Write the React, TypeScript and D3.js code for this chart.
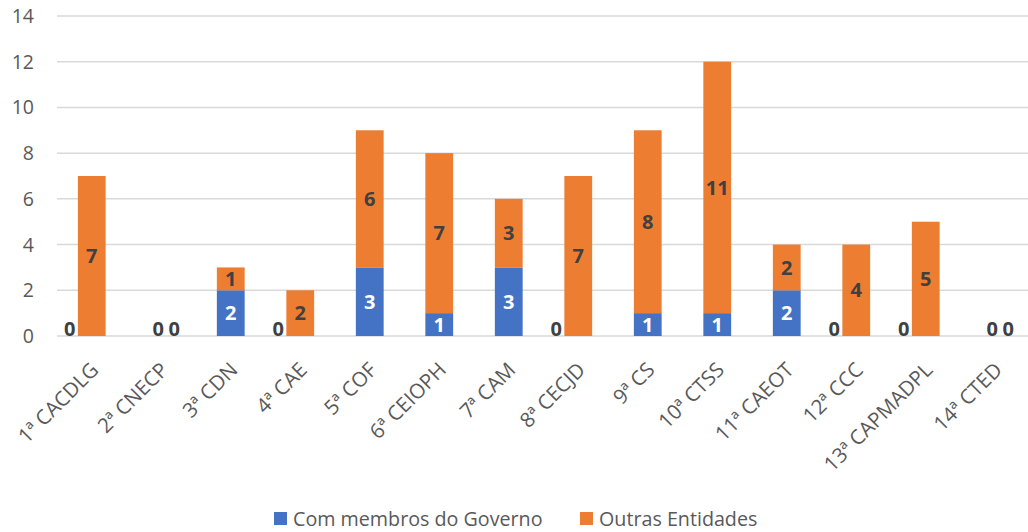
import React from "react";
import * as d3 from "d3";

const categories = [
  "1ª CACDLG", "2ª CNECP", "3ª CDN", "4ª CAE", "5ª COF", "6ª CEIOPH", "7ª CAM",
  "8ª CECJD", "9ª CS", "10ª CTSS", "11ª CAEOT", "12ª CCC", "13ª CAPMADPL", "14ª CTED",
];
const governo = [0, 0, 2, 0, 3, 1, 3, 0, 1, 1, 2, 0, 0, 0];
const outras = [7, 0, 1, 2, 6, 7, 3, 7, 8, 11, 2, 4, 5, 0];
const seriesNames = ["Com membros do Governo", "Outras Entidades"];
const yTicks = [0, 2, 4, 6, 8, 10, 12, 14];

const W = 1028;
const H = 532;
const FONT = "'Open Sans', sans-serif";
const BLUE = "#4472C4";
const ORANGE = "#ED7D31";
const GRID = "#d9d9d9";
const TXT = "#595959";
const LBL = "#404040";

export default function App() {
  const x = d3.scaleBand<string>().domain(categories).range([57, 1030]).paddingInner(0.6).paddingOuter(0.3);
  const y = d3.scaleLinear().domain([0, 14]).range([336, 16]);
  const data = categories.map((c, i) => ({ c, g: governo[i], o: outras[i] }));
  const bw = x.bandwidth();

  return (
    <svg width={W} height={H} style={{ position: "absolute", left: 0, top: 0, background: "#fff" }}>
      {yTicks.map((t) => (
        <g key={t}>
          <line x1={57} x2={W} y1={y(t)} y2={y(t)} stroke={GRID} strokeWidth={1.5} />
          <text x={34} y={y(t)} dy="0.36em" textAnchor="end" fontFamily={FONT} fontSize={19.5} fill={TXT}>{t}</text>
        </g>
      ))}
      {data.map((d) => {
        const x0 = x(d.c)!;
        const cx = x0 + bw / 2;
        const both = d.g === 0 && d.o === 0;
        return (
          <g key={d.c}>
            {d.g > 0 && <rect x={x0} width={bw} y={y(d.g)} height={y(0) - y(d.g)} fill={BLUE} />}
            {d.o > 0 && <rect x={x0} width={bw} y={y(d.g + d.o)} height={y(d.g) - y(d.g + d.o)} fill={ORANGE} />}
            {d.g > 0 ? (
              <text x={cx} y={(y(0) + y(d.g)) / 2} dy="0.36em" textAnchor="middle" fontFamily={FONT} fontWeight="bold" fontSize={20} fill="#fff">{d.g}</text>
            ) : (
              <text x={cx + (both ? -3 : -22)} y={y(0)} dy="0em" textAnchor="middle" fontFamily={FONT} fontWeight="bold" fontSize={20} fill={LBL}>{d.g}</text>
            )}
            {d.o > 0 ? (
              <text x={cx} y={(y(d.g) + y(d.g + d.o)) / 2} dy="0.36em" textAnchor="middle" fontFamily={FONT} fontWeight="bold" fontSize={20} fill={LBL}>{d.o}</text>
            ) : (
              <text x={cx + 13} y={y(0)} dy="0em" textAnchor="middle" fontFamily={FONT} fontWeight="bold" fontSize={20} fill={LBL}>{d.o}</text>
            )}
            <text transform={`translate(${cx - 2},${361}) rotate(-45)`} textAnchor="end" dy="0.7em" fontFamily={FONT} fontSize={20.5} fill={TXT}>{d.c}</text>
          </g>
        );
      })}
      <g transform="translate(274,512)">
        <rect x={0} y={0} width={13} height={13} fill={BLUE} />
        <text x={19} y={6.5} dy="0.36em" fontFamily={FONT} fontSize={19.7} fill={TXT}>{seriesNames[0]}</text>
        <rect x={306} y={0} width={13} height={13} fill={ORANGE} />
        <text x={325} y={6.5} dy="0.36em" fontFamily={FONT} fontSize={19.7} fill={TXT}>{seriesNames[1]}</text>
      </g>
    </svg>
  );
}
